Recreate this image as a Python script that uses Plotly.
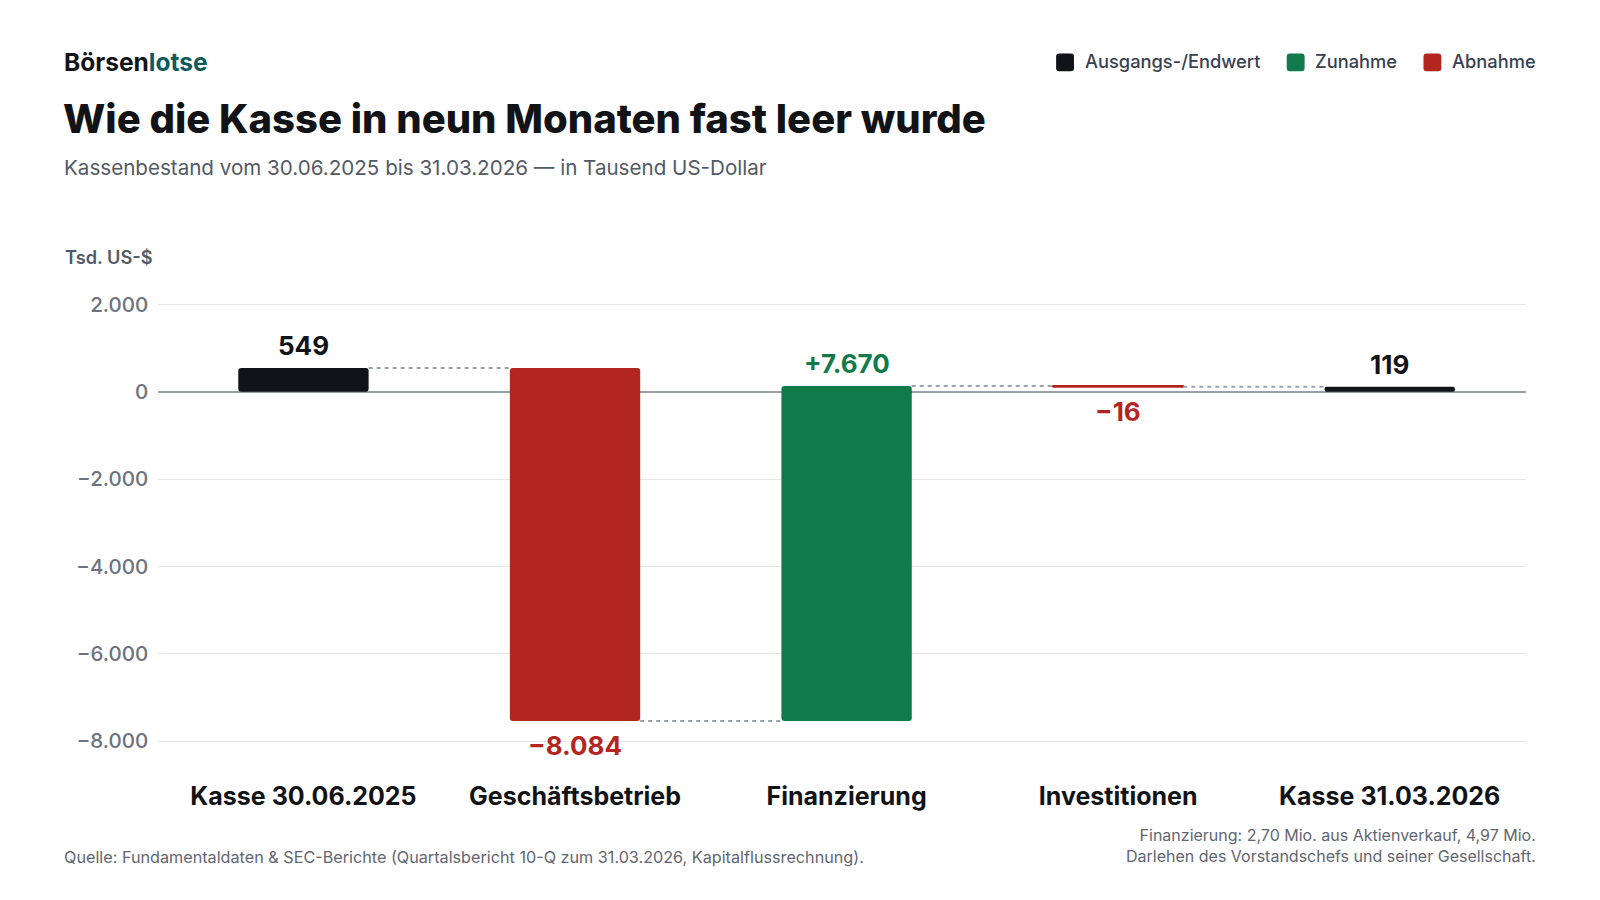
import plotly.graph_objects as go

# ---------------- data ----------------
categories = ["Kasse 30.06.2025", "Geschäftsbetrieb", "Finanzierung", "Investitionen", "Kasse 31.03.2026"]
values = [549, -8084, 7670, -16, 119]
kinds = ["total", "relative", "relative", "relative", "total"]
value_labels = ["549", "−8.084", "+7.670", "−16", "119"]
y_tickvals = [2000, 0, -2000, -4000, -6000, -8000]
y_ticktext = ["2.000", "0", "−2.000", "−4.000", "−6.000", "−8.000"]
legend_items = ["Ausgangs-/Endwert", "Zunahme", "Abnahme"]

# ---------------- style ----------------
C_TOTAL = "#111317"
C_UP = "#117a4b"
C_DOWN = "#b2261f"
C_CONN = "#9aa1ab"
FONT = "Inter"
PAGE_MARGIN = 8          # default body margin of the html page
W, H = 1600 - 2 * PAGE_MARGIN, 900 - 2 * PAGE_MARGIN
S = 0.98                 # layout positions below are given in a 0.98-scaled frame


def px_x(d):
    return (d / S - PAGE_MARGIN) / W


def px_y(d):
    return 1 - (d / S - PAGE_MARGIN) / H


# compute bases / ends
bases, ends, colors = [], [], []
running = 0
for v, k in zip(values, kinds):
    if k == "total":
        base = 0
        running = v
        colors.append(C_TOTAL)
    else:
        base = running
        running = running + v
        colors.append(C_UP if v > 0 else C_DOWN)
    bases.append(base)
    ends.append(base + v)

fig = go.Figure()

fig.add_trace(go.Bar(
    x=categories,
    y=values,
    base=bases,
    width=0.48,
    marker=dict(color=colors, cornerradius=3,
                line=dict(color=colors,
                          width=[2 if abs(v) < 100 and k != "total" else 0 for v, k in zip(values, kinds)])),
    hoverinfo="skip",
    showlegend=False,
))

# connectors (dashed) from end of bar i to start of bar i+1
cx, cy = [], []
for i in range(len(categories) - 1):
    level = ends[i]
    cx += [i + 0.24, i + 1 - 0.24, None]
    cy += [level, level, None]
fig.add_trace(go.Scatter(
    x=cx, y=cy, mode="lines", xaxis="x2",
    line=dict(color=C_CONN, width=2, dash="4px,4px"),
    hoverinfo="skip", showlegend=False,
))

# value labels
for i, (cat, v, e) in enumerate(zip(categories, values, ends)):
    up = v >= 0
    fig.add_annotation(
        x=cat, y=e, text=f"<b>{value_labels[i]}</b>",
        showarrow=False, yanchor="bottom" if up else "top",
        yshift=5 if up else -7,
        font=dict(family=FONT, size=26, color=colors[i]),
    )

XD = [px_x(155), px_x(1495)]
YD = [px_y(745), px_y(287)]

fig.update_layout(
    width=W, height=H,
    margin=dict(l=0, r=0, t=0, b=0),
    paper_bgcolor="white", plot_bgcolor="white",
    font=dict(family=FONT, color="#111317"),
    xaxis=dict(
        domain=XD, range=[-0.535, 4.5], type="category",
        showgrid=False, zeroline=False, showline=False, ticks="",
        tickfont=dict(family=FONT, size=25, color="#111317", weight=700),
        ticklabelstandoff=18,
    ),
    xaxis2=dict(domain=XD, range=[-0.535, 4.5], overlaying="x", visible=False,
                anchor="y"),
    yaxis=dict(
        domain=YD, range=[-8440, 2236],
        tickvals=y_tickvals, ticktext=y_ticktext,
        showgrid=True, gridcolor="#e6e7ea", gridwidth=1,
        zeroline=True, zerolinecolor="#9aa1ab", zerolinewidth=2,
        showline=False, ticks="",
        tickfont=dict(family=FONT, size=20.5, color="#6b7280", weight=500),
        ticklabelstandoff=9,
    ),
)

# ---------------- header / footer texts ----------------
fig.add_annotation(xref="paper", yref="paper", x=px_x(61), y=px_y(59),
                   xanchor="left", yanchor="middle", showarrow=False,
                   text="<b>Börsen</b><b><span style='color:#0f5a5c'>lotse</span></b>",
                   font=dict(family=FONT, size=24.5, color="#111317"))
fig.add_annotation(xref="paper", yref="paper", x=px_x(60), y=px_y(114),
                   xanchor="left", yanchor="middle", showarrow=False,
                   text="Wie die Kasse in neun Monaten fast leer wurde",
                   font=dict(family=FONT, size=40, color="#111317", weight=800))
fig.add_annotation(xref="paper", yref="paper", x=px_x(61), y=px_y(163),
                   xanchor="left", yanchor="middle", showarrow=False,
                   text="Kassenbestand vom 30.06.2025 bis 31.03.2026 — in Tausend US-Dollar",
                   font=dict(family=FONT, size=20.6, color="#525a66"))
fig.add_annotation(xref="paper", yref="paper", x=px_x(62), y=px_y(250),
                   xanchor="left", yanchor="middle", showarrow=False,
                   text="Tsd. US-$",
                   font=dict(family=FONT, size=18.2, color="#525a66", weight=600))
fig.add_annotation(xref="paper", yref="paper", x=px_x(61), y=px_y(840),
                   xanchor="left", yanchor="middle", showarrow=False,
                   text="Quelle: Fundamentaldaten & SEC-Berichte (Quartalsbericht 10-Q zum 31.03.2026, Kapitalflussrechnung).",
                   font=dict(family=FONT, size=16.2, color="#5f6672"))
fig.add_annotation(xref="paper", yref="paper", x=px_x(1507), y=px_y(828.5),
                   xanchor="right", yanchor="middle", showarrow=False, align="right",
                   text="Finanzierung: 2,70 Mio. aus Aktienverkauf, 4,97 Mio.<br>Darlehen des Vorstandschefs und seiner Gesellschaft.",
                   font=dict(family=FONT, size=16, color="#5f6672"))

# ---------------- legend (custom) ----------------
legend_colors = [C_TOTAL, C_UP, C_DOWN]
legend_sq_x = [1035, 1261, 1395]
legend_txt_x = [1061, 1287, 1421]
for name, col, lx, tx in zip(legend_items, legend_colors, legend_sq_x, legend_txt_x):
    x0, x1 = lx, lx + 17.5
    y0, y1 = 50.5, 68
    r = 3
    path = (f"M {px_x(x0 + r)} {px_y(y0)} L {px_x(x1 - r)} {px_y(y0)} "
            f"Q {px_x(x1)} {px_y(y0)} {px_x(x1)} {px_y(y0 + r)} "
            f"L {px_x(x1)} {px_y(y1 - r)} Q {px_x(x1)} {px_y(y1)} {px_x(x1 - r)} {px_y(y1)} "
            f"L {px_x(x0 + r)} {px_y(y1)} Q {px_x(x0)} {px_y(y1)} {px_x(x0)} {px_y(y1 - r)} "
            f"L {px_x(x0)} {px_y(y0 + r)} Q {px_x(x0)} {px_y(y0)} {px_x(x0 + r)} {px_y(y0)} Z")
    fig.add_shape(type="path", xref="paper", yref="paper", path=path,
                  fillcolor=col, line=dict(width=0))
    fig.add_annotation(xref="paper", yref="paper", x=px_x(tx), y=px_y(58),
                       xanchor="left", yanchor="middle", showarrow=False,
                       text=name, font=dict(family=FONT, size=18.3, color="#374151", weight=500))

fig.write_html("out.html")
